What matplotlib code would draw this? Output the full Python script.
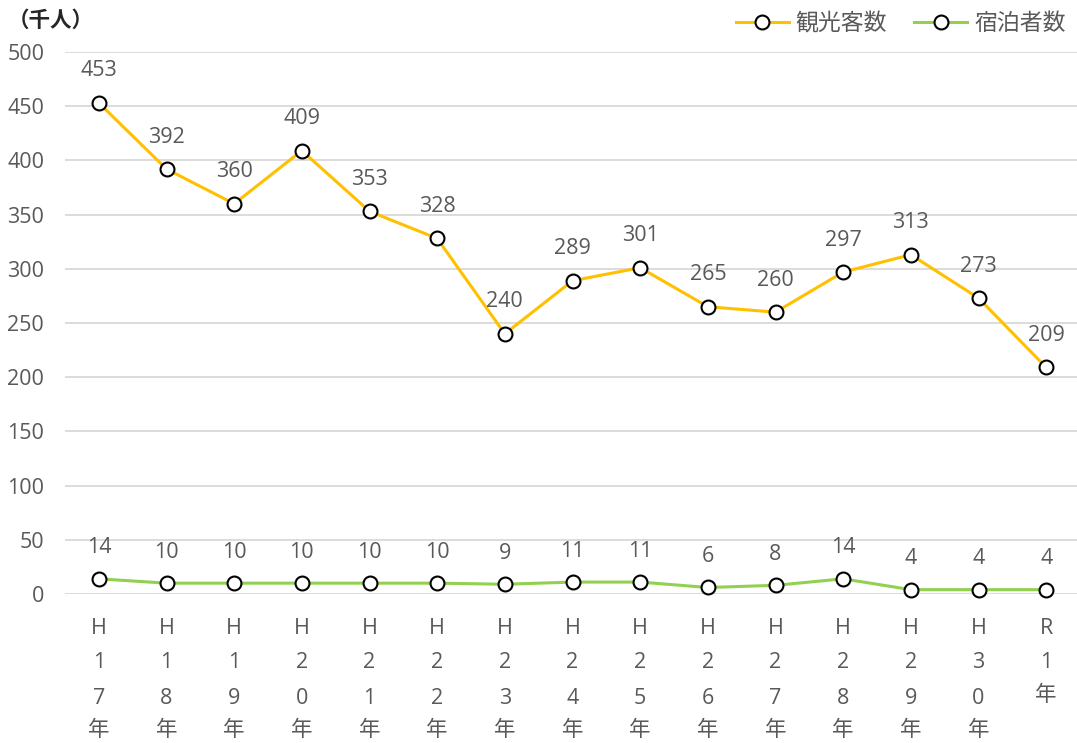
import matplotlib
matplotlib.use("Agg")
import matplotlib.pyplot as plt

plt.rcParams['font.family'] = ['Noto Sans CJK JP', 'DejaVu Sans']

categories = ["H17年", "H18年", "H19年", "H20年", "H21年", "H22年", "H23年", "H24年",
              "H25年", "H26年", "H27年", "H28年", "H29年", "H30年", "R1年"]
tourists = [453, 392, 360, 409, 353, 328, 240, 289, 301, 265, 260, 297, 313, 273, 209]
lodgers = [14, 10, 10, 10, 10, 10, 9, 11, 11, 6, 8, 14, 4, 4, 4]
yticks = [0, 50, 100, 150, 200, 250, 300, 350, 400, 450, 500]

TXT = '#595959'
ORANGE = '#FFC000'
GREEN = '#92D050'
NUMFONT = ['Open Sans', 'DejaVu Sans']
FS = 15.5

fig = plt.figure(figsize=(10.77, 7.43), dpi=100)
ax = fig.add_axes([65/1077, 1-594/743, 1015/1077, (594-52)/743])
ax.set_xlim(-0.5, len(categories)-0.5)
ax.set_ylim(0, 500)
ax.set_yticks(yticks)
ax.tick_params(axis='y', length=0, labelsize=FS, labelcolor=TXT, pad=15)
ax.set_xticks([])
for s in ax.spines.values():
    s.set_visible(False)
ax.grid(axis='y', color='#D9D9D9', lw=1.3)
ax.set_axisbelow(True)
for lab in ax.get_yticklabels():
    lab.set_fontfamily(NUMFONT)

x = list(range(len(categories)))
mk = dict(marker='o', ms=10, mfc='white', mec='black', mew=1.5)
l1, = ax.plot(x, tourists, color=ORANGE, lw=2.2, label='観光客数', **mk, clip_on=False)
l2, = ax.plot(x, lodgers, color=GREEN, lw=2.2, label='宿泊者数', **mk, clip_on=False)

for xi, v in zip(x, tourists):
    ax.annotate(str(v), (xi, v), xytext=(0, 32), textcoords='offset pixels',
                ha='center', va='center', fontsize=FS, color=TXT, fontfamily=NUMFONT)
for xi, v in zip(x, lodgers):
    ax.annotate(str(v), (xi, v), xytext=(0, 31), textcoords='offset pixels',
                ha='center', va='center', fontsize=FS, color=TXT, fontfamily=NUMFONT)

# vertical category labels
offs = [34, 69, 104, 136]
for xi, c in zip(x, categories):
    chars = list(c)
    for j, ch in enumerate(chars):
        off = offs[j]
        if j == len(chars) - 1 and len(chars) == 3:
            off = 101
        ax.annotate(ch, (xi, 0), xycoords=('data', 'axes fraction'),
                    xytext=(0, -off), textcoords='offset pixels',
                    ha='center', va='center', fontsize=FS, color=TXT,
                    fontfamily=NUMFONT if ch != '年' else ['Noto Sans CJK JP'])

fig.text(8/1077, 1-20/743, '（千人）', fontsize=15.5, color='#262626', va='center', ha='left',
         fontweight='bold')

leg = fig.legend(handles=[l1, l2], loc='center right', bbox_to_anchor=(1.0, 1-24/743),
                 ncol=2, frameon=False, fontsize=16.5, handlelength=2.3, columnspacing=1.2,
                 handletextpad=0.3, borderaxespad=0.1)
for t in leg.get_texts():
    t.set_color(TXT)

fig.savefig('out.png', dpi=100)
